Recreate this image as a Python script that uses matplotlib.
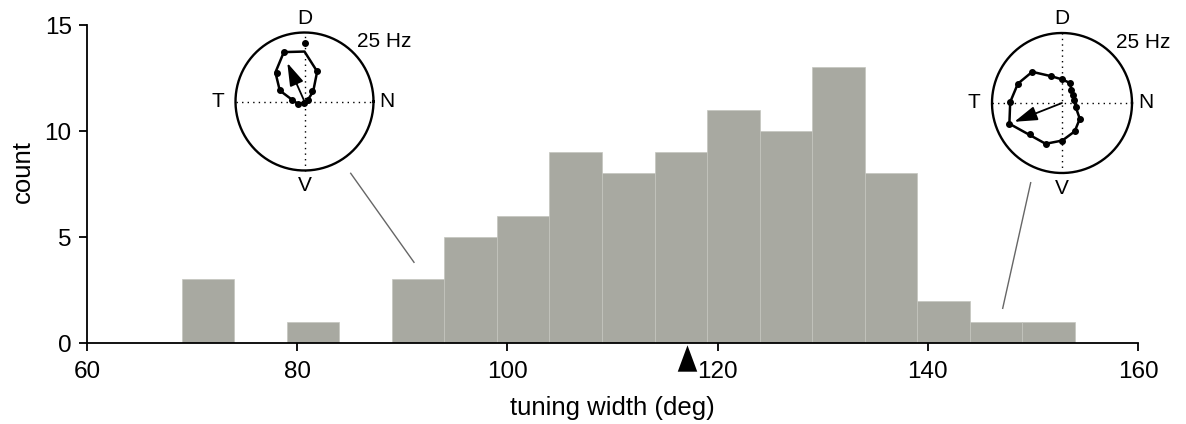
import numpy as np
import matplotlib
matplotlib.use('Agg')
import matplotlib.pyplot as plt
from matplotlib.lines import Line2D

plt.rcParams['font.family'] = ['Liberation Sans', 'DejaVu Sans']

# histogram of tuning widths (deg), bins of 5 deg
bin_edges = [69, 74, 79, 84, 89, 94, 99, 104, 109, 114, 119, 124, 129, 134, 139, 144, 149, 154]
counts = [3, 0, 1, 0, 3, 5, 6, 9, 8, 9, 11, 10, 13, 8, 2, 1, 1]
median_width = 117.1

# left inset (narrow tuning): direction (deg, 0 = N, 90 = D) and response (Hz)
left_poly_theta = [112.7, 90, 67.1, 49.1, 26.6, 248, 199.3, 172.3, 156, 135]
left_poly_r = [19.4, 18.1, 11.8, 4.8, 1.35, 0.65, 2.56, 4.5, 9.8, 14.9]
left_dot_theta = [90, 112.7, 67.1, 52.5, 26.6, 248, 199.3, 172.3, 156, 134]
left_dot_r = [21.1, 19.4, 11.8, 4.6, 1.35, 0.65, 2.56, 4.5, 9.8, 14.6]
left_vec = (114, 15.3)

# right inset (broad tuning)
right_poly_theta = [133.7, 111.8, 89.2, 69, 34.9, -16.3, -41.6, -65.9, -89.5, -111.9, -158.5, 178.9, 156.3]
right_poly_r = [15.4, 10.3, 8.4, 7.7, 4.8, 5.1, 8.5, 11.1, 13.4, 15.7, 20.2, 18.5, 17.2]
right_dot_theta = [133.7, 111.8, 89.2, 69, 53.6, 34.9, 12.5, -16.3, -41.6, -65.9, -89.5, -111.9, -135.9, -158.5, 178.9, 156.3]
right_dot_r = [15.4, 10.3, 8.4, 7.7, 5.6, 4.8, 4.4, 5.1, 8.5, 11.1, 13.4, 15.7, 15.8, 20.2, 18.5, 17.2]
right_vec = (201.5, 18.3)

W, H = 1186, 424
fig = plt.figure(figsize=(W / 100, H / 100), dpi=100)

ax = fig.add_axes([87 / W, 1 - 343 / H, (1138 - 87) / W, (343 - 25) / H])
ax.hist(bin_edges[:-1], bins=bin_edges, weights=counts, color='#a8a9a1',
        edgecolor='#c4c5bf', linewidth=0.5)
ax.set_xlim(60, 160)
ax.set_ylim(0, 15)
ax.set_xticks([60, 80, 100, 120, 140, 160])
ax.set_yticks([0, 5, 10, 15])
for s in ['top', 'right']:
    ax.spines[s].set_visible(False)
for s in ['left', 'bottom']:
    ax.spines[s].set_linewidth(1.3)
ax.tick_params(direction='out', length=6, width=1.3, labelsize=17.5, pad=5)
ax.tick_params(axis='x', pad=7)
ax.set_xlabel('tuning width (deg)', fontsize=18.5)
ax.set_ylabel('count', fontsize=18.5)
ax.xaxis.set_label_coords(0.5, -0.168)
ax.yaxis.set_label_coords(-0.05, 0.538)
tri = [(-0.37, -0.5), (0.37, -0.5), (0, 0.5)]
ax.plot([median_width], [-0.73], marker=tri, markersize=19, color='k',
        clip_on=False, markeredgewidth=0)


def inset(cx, cy, rad_px, pt, pr, dt, dr, vec):
    half = 35 * rad_px / 25
    a = fig.add_axes([(cx - half) / W, 1 - (cy + half) / H, 2 * half / W, 2 * half / H])
    a.set_xlim(-35, 35)
    a.set_ylim(-35, 35)
    a.set_aspect('equal')
    a.axis('off')
    ang = np.linspace(0, 2 * np.pi, 200)
    a.plot(25 * np.cos(ang), 25 * np.sin(ang), color='k', lw=1.7)
    a.plot([-25, 25], [0, 0], color='k', lw=1, ls=(0, (1, 3)))
    a.plot([0, 0], [-25, 25], color='k', lw=1, ls=(0, (1, 3)))
    t = np.radians(pt + pt[:1])
    r = np.array(pr + pr[:1])
    a.plot(r * np.cos(t), r * np.sin(t), color='k', lw=1.8)
    t = np.radians(dt)
    r = np.array(dr)
    a.plot(r * np.cos(t), r * np.sin(t), 'o', color='k', markersize=4)
    vt = np.radians(vec[0])
    a.annotate('', xy=(vec[1] * np.cos(vt), vec[1] * np.sin(vt)), xytext=(0, 0),
               arrowprops=dict(arrowstyle='-|>,head_length=0.7,head_width=0.22',
                               color='k', lw=1.3, shrinkA=0, shrinkB=0,
                               mutation_scale=20))
    fs = 15
    a.text(0, 30, 'D', ha='center', va='center', fontsize=fs)
    a.text(0, -30.5, 'V', ha='center', va='center', fontsize=fs)
    a.text(-31.3, 0, 'T', ha='center', va='center', fontsize=fs)
    a.text(30, 0, 'N', ha='center', va='center', fontsize=fs)
    a.text(19.2, 21.6, '25 Hz', ha='left', va='center', fontsize=fs)
    return a


inset(304.5, 101.5, 69, left_poly_theta, left_poly_r, left_dot_theta, left_dot_r, left_vec)
inset(1062, 103, 70, right_poly_theta, right_poly_r, right_dot_theta, right_dot_r, right_vec)

# connector lines from insets to the histogram
fig.add_artist(Line2D([350.7 / W, 414 / W], [1 - 173.3 / H, 1 - 262.3 / H],
                      color='#666666', lw=1))
fig.add_artist(Line2D([1030.7 / W, 1002.7 / W], [1 - 182.7 / H, 1 - 308.3 / H],
                      color='#666666', lw=1))

fig.savefig('out.png', dpi=100)
